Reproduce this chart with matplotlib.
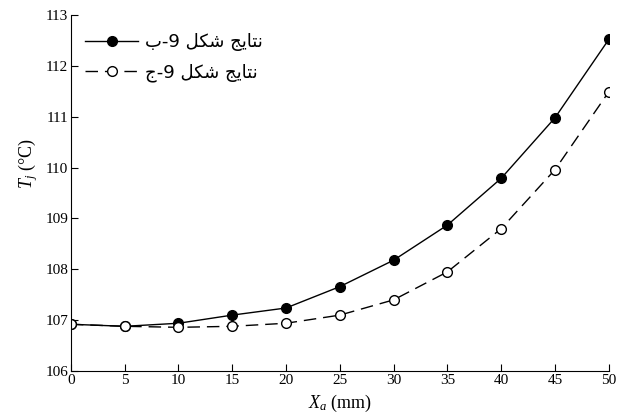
import matplotlib
matplotlib.use("Agg")
import matplotlib.pyplot as plt

# distance X_a (mm)
x_mm = [0, 5, 10, 15, 20, 25, 30, 35, 40, 45, 50]
# junction temperature, figure 9-b and 9-c results
tj_b = [106.92, 106.88, 106.94, 107.10, 107.24, 107.66, 108.18, 108.87, 109.79, 110.98, 112.52]
tj_c = [106.92, 106.88, 106.86, 106.88, 106.94, 107.10, 107.40, 107.95, 108.80, 109.96, 111.49]

# Persian labels, pre-shaped in visual order (matplotlib has no bidi/shaping)
label_b = "\uFE8F-9 \uFEDE\uFB91\uFEB7 \uFE9E\uFEF3\uFE8E\uFE98\uFEE7"  # نتایج شکل 9-ب
label_c = "\uFE9D-9 \uFEDE\uFB91\uFEB7 \uFE9E\uFEF3\uFE8E\uFE98\uFEE7"  # نتایج شکل 9-ج

xticks = [0, 5, 10, 15, 20, 25, 30, 35, 40, 45, 50]
yticks = [106, 107, 108, 109, 110, 111, 112, 113]

plt.rcParams['font.family'] = ['Liberation Serif', 'DejaVu Serif']
plt.rcParams['mathtext.fontset'] = 'custom'
plt.rcParams['mathtext.it'] = 'Liberation Serif:italic'
plt.rcParams['mathtext.rm'] = 'Liberation Serif'

fig = plt.figure(figsize=(6.27, 4.16), dpi=100)
ax = fig.add_axes([0.113, 0.108, 0.858, 0.856])

ax.plot(x_mm, tj_b, color='black', lw=1.0, marker='o', markersize=7,
        markerfacecolor='black', markeredgecolor='black', label=label_b)
ax.plot(x_mm, tj_c, color='black', lw=1.0, linestyle=(0, (9, 5)), marker='o',
        markersize=7, markerfacecolor='white', markeredgecolor='black',
        label=label_c)

ax.set_xlim(0, 50)
ax.set_ylim(106, 113)
ax.set_xticks(xticks)
ax.set_yticks(yticks)
ax.tick_params(direction='in', length=5, width=0.8, labelsize=11, pad=2)
ax.spines['top'].set_visible(False)
ax.spines['right'].set_visible(False)

ax.set_xlabel(r'$X_a$ (mm)', fontsize=13, labelpad=4)
ax.set_ylabel(r'$T_j$ (°C)', fontsize=13, labelpad=2)
ax.yaxis.set_label_coords(-0.058, 0.584)

leg = ax.legend(loc='upper left', bbox_to_anchor=(-0.003, 0.995), frameon=False,
                handlelength=2.9, numpoints=1, labelspacing=0.7,
                handletextpad=0.4, prop={'family': 'DejaVu Sans', 'size': 13})

fig.savefig('out.png', dpi=100)
